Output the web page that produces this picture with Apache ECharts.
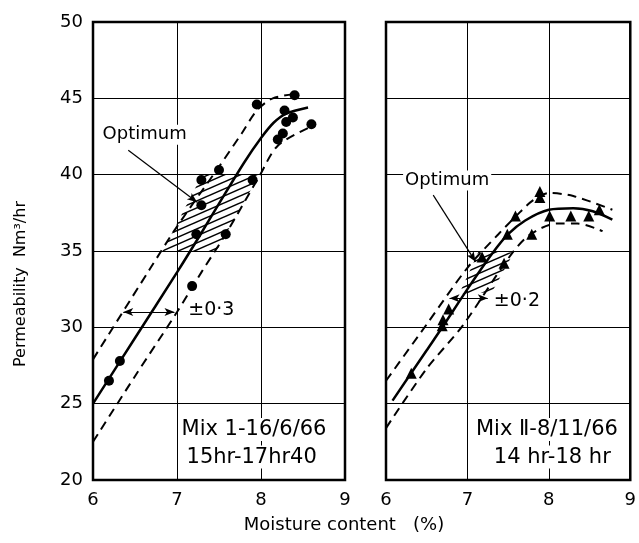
<!DOCTYPE html>
<html>
<head>
<meta charset="utf-8">
<script src="https://cdn.jsdelivr.net/npm/echarts@6/dist/echarts.min.js"></script>
<style>html,body{margin:0;padding:0;background:#fff}#c{width:639px;height:543px}</style>
</head>
<body>
<div id="c"></div>
<script>
// ---------- data ----------
const xTicks = [6, 7, 8, 9];
const yTicks = [20, 25, 30, 35, 40, 45, 50];

// Mix I (circles)
const mix1Points = [[6.19,26.5],[6.32,27.8],[7.18,32.7],[7.23,36.1],[7.58,36.1],[7.29,38.0],[7.29,39.65],[7.50,40.3],[7.90,39.65],[7.95,44.6],[8.40,45.2],[8.28,44.2],[8.38,43.75],[8.30,43.45],[8.26,42.7],[8.20,42.3],[8.60,43.3]];
const mix1Fit   = [[6.0,25.0],[6.5,29.3],[7.0,33.6],[7.27,36.0],[7.5,38.1],[7.8,40.8],[8.0,42.4],[8.15,43.4],[8.3,44.0],[8.56,44.4]];
const mix1Upper = [[6.0,27.9],[6.675,33.8],[7.0,36.6],[7.51,40.6],[7.77,42.7],[7.95,44.2],[8.14,45.0],[8.42,45.3]];
const mix1Lower = [[6.0,22.5],[6.5,26.8],[7.0,31.0],[7.29,33.6],[7.59,36.2],[7.98,39.9],[8.2,41.9],[8.58,43.1]];
const mix1Optimum = [[6.83,35],[7.47,35],[7.98,40],[7.30,40]];

// Mix II (triangles)
const mix2Points = [[6.31,27.0],[6.69,30.1],[6.70,30.5],[6.77,31.2],[7.18,34.6],[7.45,34.2],[7.49,36.1],[7.79,36.1],[7.59,37.3],[7.89,38.9],[7.89,38.5],[8.01,37.3],[8.27,37.3],[8.49,37.3],[8.62,37.7]];
const mix2Fit   = [[6.08,25.2],[6.5,28.5],[6.70,30.07],[7.0,32.5],[7.3,34.8],[7.5,36.1],[7.71,37.0],[8.0,37.7],[8.3,37.8],[8.54,37.6],[8.78,37.05]];
const mix2Upper = [[6.0,26.5],[6.5,30.2],[7.0,33.9],[7.38,36.1],[7.6,37.3],[7.8,38.3],[8.0,38.8],[8.3,38.6],[8.78,37.7]];
const mix2Lower = [[6.0,23.4],[6.5,27.3],[6.94,30.1],[7.5,34.5],[7.75,36.0],[8.1,36.8],[8.35,36.8],[8.66,36.3]];
const mix2Optimum = [[6.90,32.2],[7.30,32.3],[7.57,34.9],[7.14,35.0]];

// annotations (data coordinates)
const mix1Labels = [
  {text:'Optimum', x:6.09, y:42.62, size:18},
  {text:'±0·3', x:7.11, y:31.1, size:19},
  {text:'Mix 1-16/6/66', x:7.03, y:23.3, size:21},
  {text:'15hr-17hr40', x:7.09, y:21.5, size:21}
];
const mix2Labels = [
  {text:'Optimum', x:6.21, y:39.62, size:18},
  {text:'±0·2', x:7.30, y:31.7, size:19},
  {text:'Mix Ⅱ-8/11/66', x:7.08, y:23.3, size:21},
  {text:'14 hr-18 hr', x:7.30, y:21.5, size:21}
];
const mix1Arrows = {leader:[[6.42,41.6],[7.24,38.2]], span:[[6.36,31.0],[6.97,31.0]]};
const mix2Arrows = {leader:[[6.58,38.66],[7.10,34.3]], span:[[6.78,31.9],[7.25,31.9]]};

// ---------- chart ----------
const FONT = 'DejaVu Sans';
function hatchCanvas(){
  const c = document.createElement('canvas');
  c.width = 16; c.height = 7;
  const g = c.getContext('2d');
  g.strokeStyle = '#000'; g.lineWidth = 1.5;
  for (let k=-1;k<=1;k++){
    g.beginPath();
    g.moveTo(-1, 7 + 7/16 + k*7);
    g.lineTo(17, 0 - 7/16 + k*7);
    g.stroke();
  }
  return c;
}
const pattern = {image: hatchCanvas(), repeat: 'repeat'};

const chart = echarts.init(document.getElementById('c'), null, {renderer:'canvas'});

function xAxis(gi){
  return {type:'value', gridIndex:gi, min:xTicks[0], max:xTicks[xTicks.length-1], interval:1,
    axisLine:{show:false}, axisTick:{show:false},
    splitLine:{show:true, lineStyle:{color:'#000', width:1}},
    axisLabel:{show:true, color:'#000', fontSize:18, fontFamily:FONT, margin:11}};
}
function yAxis(gi, showLabel){
  return {type:'value', gridIndex:gi, min:yTicks[0], max:yTicks[yTicks.length-1], interval:5,
    axisLine:{show:false}, axisTick:{show:false},
    splitLine:{show:true, lineStyle:{color:'#000', width:1}},
    axisLabel:{show:showLabel, color:'#000', fontSize:18, fontFamily:FONT, margin:10}};
}
function lineSeries(gi, data, dashed){
  return {type:'line', xAxisIndex:gi, yAxisIndex:gi, data:data, smooth:0.3, showSymbol:false, symbol:'none',
    lineStyle:{color:'#000', width: dashed?2:2.5, type: dashed?[9,6]:'solid'}, z:3, silent:true};
}
function hatchSeries(gi, poly){
  return {type:'custom', xAxisIndex:gi, yAxisIndex:gi, data:[poly[0]], z:1, silent:true, clip:false,
    renderItem:function(params, api){
      const pts = poly.map(p=>api.coord(p));
      return {type:'polygon', shape:{points:pts}, style:{fill:pattern, stroke:null}};
    }};
}
function labelSeries(gi, labels){
  return {type:'custom', xAxisIndex:gi, yAxisIndex:gi, data:labels.map(l=>[l.x,l.y]), z:6, silent:true, clip:false,
    renderItem:function(params, api){
      const l = labels[params.dataIndex];
      const p = api.coord([l.x, l.y]);
      return {type:'text', x:p[0], y:p[1], style:{text:l.text, fill:'#000', font: l.size+'px "'+FONT+'"',
        align:'left', verticalAlign:'middle', backgroundColor:'#fff', padding:[1,2]}};
    }};
}
function scatterSeries(gi, data, symbol, size, arrows){
  return {type:'scatter', xAxisIndex:gi, yAxisIndex:gi, data:data, symbol:symbol, symbolSize:size,
    itemStyle:{color:'#000', opacity:1}, z:5, silent:true,
    markLine:{silent:true, animation:false, label:{show:false},
      lineStyle:{color:'#000', width:1.2, type:'solid'},
      data:[
        [{coord:arrows.leader[0], symbol:'none'},{coord:arrows.leader[1], symbol:'arrow', symbolSize:[6,10]}],
        [{coord:arrows.span[0], symbol:'arrow', symbolSize:[6,10]},{coord:arrows.span[1], symbol:'arrow', symbolSize:[6,10]}]
      ]}};
}

chart.setOption({
  animation:false,
  backgroundColor:'#fff',
  grid:[
    {left:93, top:22, width:252, height:458, show:true, borderColor:'#000', borderWidth:2.5, backgroundColor:'transparent'},
    {left:386, top:22, width:252.5, height:458, show:true, borderColor:'#000', borderWidth:2.5, backgroundColor:'transparent'}
  ],
  xAxis:[xAxis(0), xAxis(1)],
  yAxis:[yAxis(0,true), yAxis(1,false)],
  series:[
    hatchSeries(0, mix1Optimum),
    lineSeries(0, mix1Fit, false),
    lineSeries(0, mix1Upper, true),
    lineSeries(0, mix1Lower, true),
    scatterSeries(0, mix1Points, 'circle', 10, mix1Arrows),
    labelSeries(0, mix1Labels),
    hatchSeries(1, mix2Optimum),
    lineSeries(1, mix2Fit, false),
    lineSeries(1, mix2Upper, true),
    lineSeries(1, mix2Lower, true),
    scatterSeries(1, mix2Points, 'triangle', 11, mix2Arrows),
    labelSeries(1, mix2Labels)
  ],
  graphic:[
    {type:'text', x:21, y:284, rotation:Math.PI/2, style:{text:'Permeability  Nm³/hr', fill:'#000', font:'16px "'+FONT+'"', align:'center', verticalAlign:'middle'}},
    {type:'text', x:344, y:525, style:{text:'Moisture content   (%)', fill:'#000', font:'18px "'+FONT+'"', align:'center', verticalAlign:'middle'}}
  ]
});
</script>
</body>
</html>
